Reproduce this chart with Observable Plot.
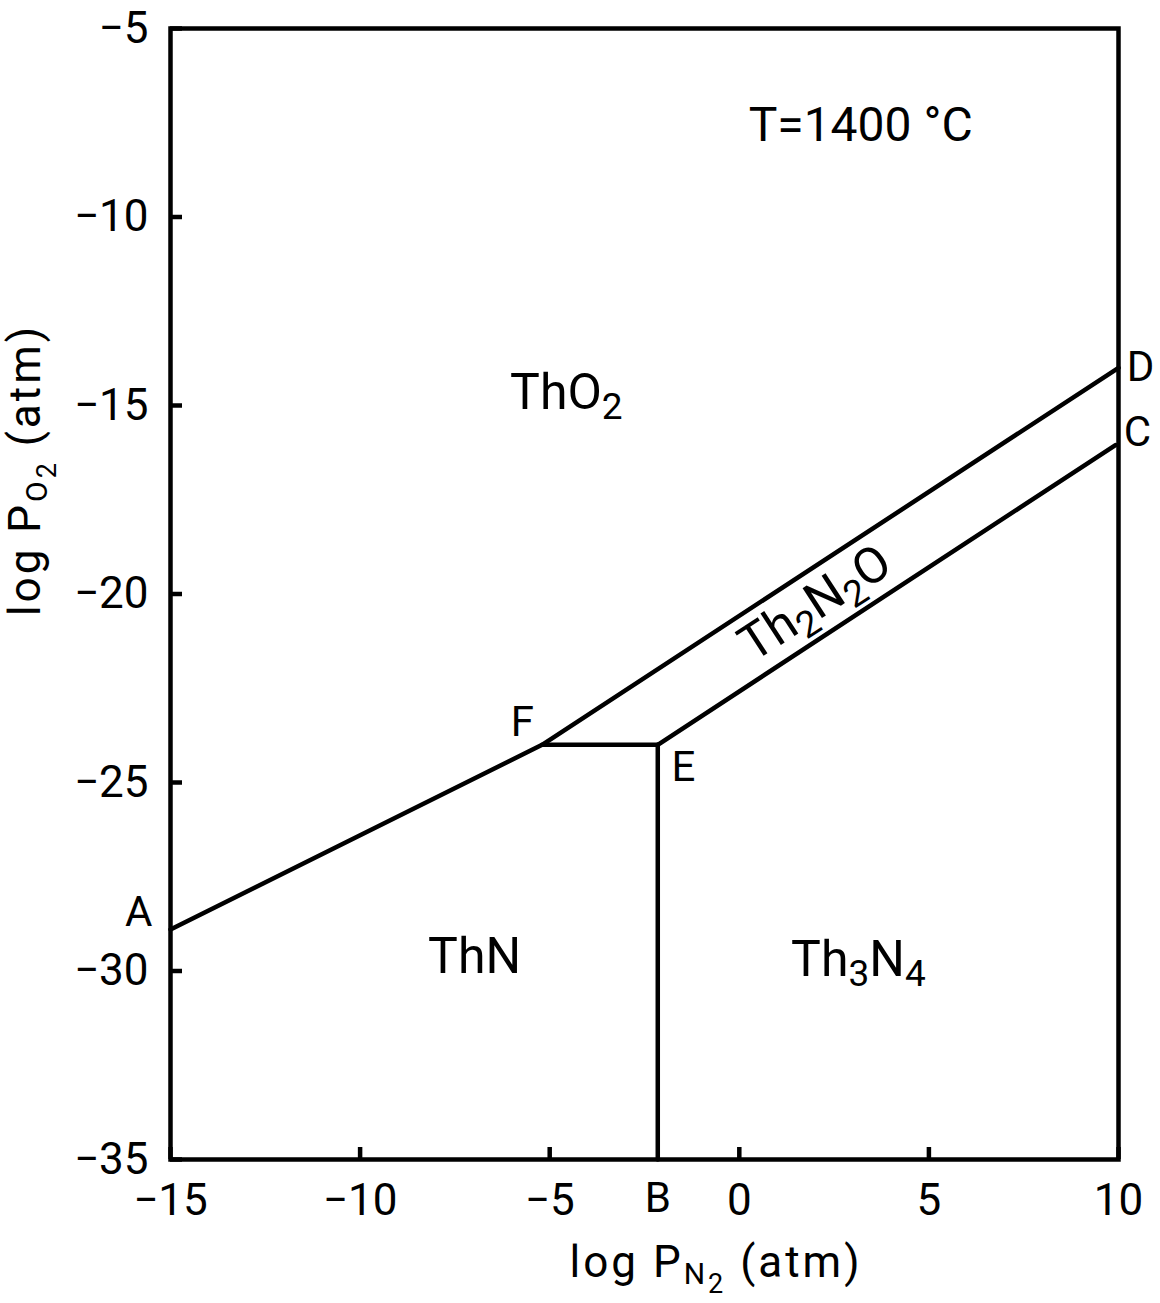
<!DOCTYPE html>
<html>
<head>
<meta charset="utf-8">
<script src="https://cdn.jsdelivr.net/npm/d3@7"></script>
<script src="https://cdn.jsdelivr.net/npm/@observablehq/plot@0.6"></script>
<style>
html, body { margin: 0; padding: 0; background: #fff; }
#chart svg { display: block; }
</style>
</head>
<body>
<div id="chart"></div>
<script>
// ---- data ----
const xTicks = [-15, -10, -5, 0, 5, 10];
const yTicks = [-5, -10, -15, -20, -25, -30, -35];

// phase-boundary nodes: log P_N2, log P_O2
const nodeNames = ["A", "F", "E", "B", "D", "C"];
const nodeLogPN2 = [-15, -5.2, -2.15, -2.15, 10, 9.92];
const nodeLogPO2 = [-28.9, -24, -24, -35, -14, -16.05];
const boundaryPaths = [["A", "F", "D"], ["F", "E"], ["E", "C"], ["E", "B"]];

// point letters
const pointLabels = ["A", "B", "C", "D", "E", "F"];
const pointLabelX = [-15.84, -2.15, 10.5, 10.58, -1.47, -5.72];
const pointLabelY = [-28.45, -36.03, -15.72, -13.99, -24.6, -23.41];

// phase fields
const phaseNames = ["ThO₂", "ThN", "Th₃N₄"];
const phaseX = [-4.56, -6.98, 3.14];
const phaseY = [-14.66, -29.64, -29.72];

// narrow band phase
const bandNames = ["Th₂N₂O"];
const bandX = [2.0];
const bandY = [-20.25];

// temperature note
const noteText = ["T=1400 °C"];
const noteX = [3.2];
const noteY = [-7.57];

// ---- build line table ----
const nodeIndex = new Map(nodeNames.map((n, i) => [n, i]));
const boundaryRows = boundaryPaths.flatMap((path, k) =>
  path.map(n => ({id: k, x: nodeLogPN2[nodeIndex.get(n)], y: nodeLogPO2[nodeIndex.get(n)]}))
);

const FONT = "Roboto, 'DejaVu Sans', sans-serif";
const fmt = d => (d < 0 ? "\u2212" + Math.abs(d) : String(d));

const chart = Plot.plot({
  width: 1160,
  height: 1303,
  marginLeft: 170,
  marginRight: 42,
  marginTop: 28,
  marginBottom: 144,
  x: {domain: [-15, 10]},
  y: {domain: [-35, -5]},
  style: {fontFamily: FONT, fontSize: "44px", color: "#000", background: "#fff"},
  marks: [
    Plot.axisX(xTicks, {tickSize: -12, strokeWidth: 4.5, fill: "none", label: null}),
    Plot.axisX(xTicks, {tickSize: 0, tickPadding: 24, label: null, tickFormat: fmt, fontSize: 44}),
    Plot.axisY(yTicks, {tickSize: -12, strokeWidth: 4.5, fill: "none", label: null}),
    Plot.axisY(yTicks, {tickSize: 0, tickPadding: 22, label: null, tickFormat: fmt, fontSize: 44}),
    Plot.frame({stroke: "#000", strokeWidth: 4.5}),
    Plot.line(boundaryRows, {x: "x", y: "y", z: "id", stroke: "#000", strokeWidth: 4.5}),
    Plot.text(pointLabels, {x: pointLabelX, y: pointLabelY, fontSize: 42, fontFamily: FONT, fill: "#000"}),
    Plot.text(phaseNames, {x: phaseX, y: phaseY, fontSize: 50, fontFamily: FONT, fill: "#000"}),
    Plot.text(bandNames, {x: bandX, y: bandY, rotate: -33, fontSize: 50, fontFamily: FONT, fill: "#000"}),
    Plot.text(noteText, {x: noteX, y: noteY, fontSize: 48, fontFamily: FONT, fill: "#000"})
  ]
});

document.getElementById("chart").appendChild(chart);

// ---- subscripts as real tspans ----
const subDigits = {"₀":"0","₁":"1","₂":"2","₃":"3","₄":"4","₅":"5","₆":"6","₇":"7","₈":"8","₉":"9"};
chart.querySelectorAll("text").forEach(t => {
  const s = t.textContent;
  if (!/[₀-₉]/.test(s)) return;
  const fs = parseFloat(getComputedStyle(t).fontSize) || 44;
  const runs = [];
  for (const ch of s) {
    const sub = ch in subDigits;
    const c = sub ? subDigits[ch] : ch;
    if (runs.length && runs[runs.length - 1].sub === sub) runs[runs.length - 1].txt += c;
    else runs.push({sub, txt: c});
  }
  t.textContent = "";
  let shifted = false;
  for (const r of runs) {
    const ts = document.createElementNS("http://www.w3.org/2000/svg", "tspan");
    ts.textContent = r.txt;
    if (r.sub) {
      ts.setAttribute("font-size", (fs * 0.74).toFixed(1));
      ts.setAttribute("dy", (fs * 0.2).toFixed(1));
      shifted = true;
    } else if (shifted) {
      ts.setAttribute("dy", (-fs * 0.2).toFixed(1));
      shifted = false;
    }
    t.appendChild(ts);
  }
});

// ---- axis titles with nested subscripts ----
const svg = d3.select(chart);
function axisTitle(g, subLetter) {
  const fs = 44;
  const t = g.append("text")
    .attr("text-anchor", "middle")
    .attr("font-family", FONT)
    .attr("font-size", fs)
    .attr("letter-spacing", 3)
    .attr("fill", "#000");
  t.append("tspan").text("log P");
  t.append("tspan").attr("font-size", 30).attr("dy", 7).text(subLetter);
  t.append("tspan").attr("font-size", 27).attr("dy", 9).text("2");
  t.append("tspan").attr("dy", -16).text(" (atm)");
  return t;
}
axisTitle(svg.append("g").attr("transform", "translate(716,1277)"), "N");
axisTitle(svg.append("g").attr("transform", "translate(40,470) rotate(-90)"), "O");
</script>
</body>
</html>
